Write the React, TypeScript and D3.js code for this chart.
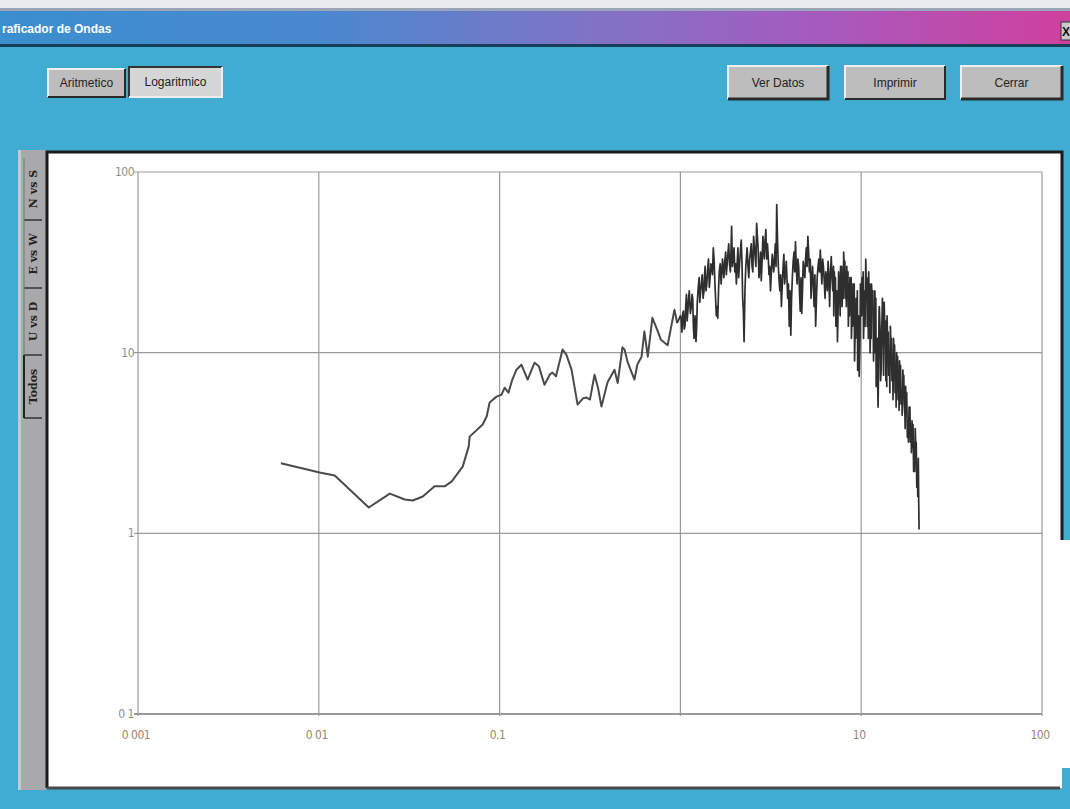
import React from "react";
import * as d3 from "d3";

// ---- data ----
const xTickValues = [0.001, 0.01, 0.1, 1, 10, 100];
const xTickLabels = ["0 001", "0 01", "0.1", "", "10", "100"];
const yTickValues = [0.1, 1, 10, 100];
const yTickLabels = ["0 1", "1", "10", "100"];

const lowFreqs = [
  0.00617, 0.0101, 0.01225, 0.0189, 0.0247, 0.0299, 0.0331, 0.0376, 0.0437, 0.0497,
  0.0544, 0.0625, 0.0675, 0.0683, 0.0806, 0.0848, 0.0881, 0.0962, 0.1026, 0.1066,
  0.112, 0.117, 0.124, 0.132, 0.143, 0.156, 0.165, 0.177, 0.19, 0.196, 0.205, 0.223,
  0.234, 0.25, 0.27, 0.29, 0.303, 0.316, 0.335, 0.35, 0.366, 0.395, 0.432, 0.45,
  0.478, 0.491, 0.51, 0.557, 0.578, 0.61, 0.632, 0.66, 0.7, 0.75, 0.78, 0.85, 0.927, 0.96,
];
const lowAmps = [
  2.44, 2.17, 2.09, 1.39, 1.66, 1.54, 1.52, 1.6, 1.82, 1.82,
  1.94, 2.34, 3.03, 3.43, 4.0, 4.43, 5.3, 5.71, 5.86, 6.4,
  6.0, 7.0, 8.05, 8.58, 7.1, 8.8, 8.4, 6.65, 7.6, 7.76, 7.4, 10.4,
  9.75, 8.05, 5.16, 5.6, 5.64, 5.5, 7.55, 6.4, 5.03, 6.83, 8.05, 6.8,
  10.7, 10.4, 8.9, 7.1, 8.6, 9.5, 13.1, 9.5, 15.6, 13.1, 11.8, 11.0, 17.3, 14.6,
];

// dense, noisy part of the spectrum (upper/lower swings of the band)
const peakFreqs = [
  1.0, 1.02, 1.04, 1.06, 1.08, 1.1, 1.12, 1.15, 1.17, 1.19, 1.22, 1.24, 1.27, 1.29, 1.32,
  1.35, 1.37, 1.4, 1.43, 1.46, 1.49, 1.52, 1.55, 1.58, 1.61, 1.64, 1.68, 1.71, 1.74, 1.78,
  1.81, 1.85, 1.89, 1.92, 1.96, 2.0, 2.04, 2.08, 2.12, 2.17, 2.21, 2.25, 2.3, 2.34, 2.39,
  2.44, 2.49, 2.54, 2.59, 2.64, 2.69, 2.75, 2.8, 2.86, 2.91, 2.97, 3.03, 3.09, 3.15, 3.22,
  3.28, 3.35, 3.41, 3.48, 3.55, 3.62, 3.7, 3.77, 3.85, 3.92, 4.0, 4.08, 4.16, 4.25, 4.33,
  4.42, 4.51, 4.6, 4.69, 4.78, 4.88, 4.97, 5.07, 5.17, 5.28, 5.38, 5.49, 5.6, 5.71, 5.83,
  5.94, 6.06, 6.18, 6.31, 6.43, 6.56, 6.69, 6.83, 6.96, 7.1, 7.25, 7.39, 7.54, 7.69, 7.84,
  8.0, 8.16, 8.32, 8.49, 8.66, 8.83, 9.01, 9.19, 9.37, 9.56, 9.75, 9.95, 10.1, 10.3, 10.6,
  10.8, 11.0, 11.2, 11.4, 11.7, 11.9, 12.1, 12.4, 12.6, 12.9, 13.1, 13.4, 13.7, 13.9, 14.2,
  14.5, 14.8, 15.1, 15.4, 15.7, 16.0, 16.3, 16.6, 17.0, 17.3, 17.6, 18.0, 18.4, 18.7, 19.1,
  19.5, 19.9, 20.3, 20.7, 20.9,
];
const peakAmps = [
  16, 13, 17, 14, 21, 17, 22, 18, 20, 12, 11.5, 19, 26, 21, 27,
  22, 30, 24, 33, 26, 30, 38, 25, 16, 15.5, 28, 24, 33, 26, 36,
  30, 40, 28, 50, 34, 28, 24, 38, 30, 42, 20, 11.5, 30, 38, 26,
  36, 30, 44, 34, 52, 38, 30, 25, 44, 33, 48, 40, 27, 22, 35,
  28, 40, 66, 30, 22, 18, 30, 24, 32, 20, 14, 12.5, 26, 36, 41,
  24, 30, 17, 16.5, 32, 26, 38, 44, 28, 20, 30, 18, 14, 26, 33,
  37, 24, 30, 20, 26, 32, 18, 34, 22, 28, 14, 11.5, 24, 30, 18,
  36, 20, 30, 14, 26, 12, 24, 9, 20, 8, 7.4, 22, 26, 12, 33,
  14, 28, 10, 24, 9, 22, 6.5, 5, 18, 8, 20, 19, 7, 16, 7.5,
  14, 7, 12, 6, 10, 5.5, 9, 5.2, 8, 5.2, 6.5, 3.4, 5, 3.2, 4.2,
  2.2, 3.8, 1.8, 2.6, 1.05,
];
const bandFreqs = [
  1.01, 1.03, 1.05, 1.07, 1.09, 1.11, 1.135, 1.16, 1.18, 1.205, 1.23, 1.255, 1.28, 1.305, 1.335,
  1.36, 1.385, 1.415, 1.445, 1.475, 1.505, 1.535, 1.565, 1.595, 1.625, 1.66, 1.695, 1.725, 1.76, 1.795,
  1.83, 1.87, 1.905, 1.94, 1.98, 2.02, 2.06, 2.1, 2.145, 2.19, 2.23, 2.275, 2.32, 2.365, 2.415,
  2.465, 2.515, 2.565, 2.615, 2.665, 2.72, 2.775, 2.83, 2.885, 2.94, 3.0, 3.06, 3.12, 3.185, 3.25,
  3.315, 3.38, 3.445, 3.515, 3.585, 3.66, 3.735, 3.81, 3.885, 3.96, 4.04, 4.12, 4.205, 4.29, 4.375,
  4.465, 4.555, 4.645, 4.735, 4.83, 4.925, 5.02, 5.12, 5.225, 5.33, 5.435, 5.545, 5.655, 5.77, 5.885,
  6.0, 6.12, 6.245, 6.37, 6.495, 6.625, 6.76, 6.895, 7.03, 7.175, 7.32, 7.465, 7.615, 7.765, 7.92,
  8.08, 8.24, 8.405, 8.575, 8.745, 8.92, 9.1, 9.28, 9.465, 9.655, 9.85, 10.0, 10.2, 10.45, 10.7,
  10.9, 11.1, 11.3, 11.55, 11.8, 12.0, 12.25, 12.5, 12.75, 13.0, 13.25, 13.55, 13.8, 14.05, 14.35,
  14.65, 14.95, 15.25, 15.55, 15.85, 16.15, 16.45, 16.8, 17.15, 17.45, 17.8, 18.2, 18.55, 18.9, 19.3,
  19.7, 20.1, 20.5, 20.8,
];
const bandAmps = [
  15.5, 16.5, 13.5, 18, 15, 20, 16.5, 21, 14, 16, 14, 23, 19, 24, 20,
  27, 22, 29, 23, 31, 27, 33, 20, 18, 22, 31, 28, 29, 32, 27,
  35, 31, 37, 30, 38, 31, 31, 26, 36, 32, 17, 22, 34, 30, 33,
  40, 28, 39, 30, 44, 26, 36, 32, 38, 42, 33, 34, 30, 28, 32,
  33, 30, 42, 25, 27, 24, 35, 27, 26, 24, 22, 20, 32, 28, 30,
  33, 22, 26, 22, 28, 33, 30, 36, 33, 25, 24, 27, 20, 30, 28,
  29, 33, 25, 28, 22, 26, 28, 26, 30, 20, 22, 19, 20, 26, 26,
  26, 25, 22, 24, 20, 18, 18, 15, 14, 16, 12, 20, 19, 22, 20,
  22, 18, 16, 18, 15, 14, 12, 10, 12, 14, 11, 12, 11, 10, 9,
  10, 8.5, 8.5, 7.5, 7.5, 6.5, 7, 6, 6.5, 4.5, 5, 4.2, 4, 3.6, 3,
  3, 2.6, 2.2, 1.5,
];
const tailFreqs = [
  7.05, 7.2, 7.36, 7.5, 7.65, 7.8, 7.96, 8.12, 8.28, 8.45, 8.62, 8.8, 8.97, 9.15, 9.33,
  9.52, 9.7, 9.9, 10.05, 10.25, 10.5, 10.75, 10.95, 11.15, 11.35, 11.6, 11.85, 12.05, 12.3, 12.55,
  12.8, 13.05, 13.3, 13.6, 13.85, 14.1, 14.4, 14.7, 15.0, 15.3, 15.6, 15.9, 16.2, 16.5, 16.85,
  17.2, 17.5, 17.85, 18.25, 18.6, 18.95, 19.35, 19.75, 20.15, 20.55, 20.75,
];
const tailAmps = [
  16, 26, 18, 28, 16, 30, 20, 32, 18, 28, 16, 26, 14, 24, 12,
  22, 10, 24, 16, 28, 14, 26, 12, 24, 12, 22, 10, 20, 8, 17,
  7, 16, 7.5, 15, 6.5, 13, 6, 12, 5.5, 11, 5, 9.5, 4.8, 8.5, 4.5,
  7.5, 3.8, 6, 3.2, 5, 2.8, 4, 2.2, 3.2, 1.6, 2.0,
];

const tabLabels = ["N vs S", "E vs W", "U vs D", "Todos"];
const leftButtons = ["Aritmetico", "Logaritmico"];
const rightButtons = ["Ver Datos", "Imprimir", "Cerrar"];

const W = 1070;
const H = 809;

function Button({ x, y, w, h, label, pressed, dark }: any) {
  return (
    <g>
      <rect x={x} y={y} width={w} height={h} fill={pressed ? "#d6d6d6" : "#bdbdbd"} />
      <path d={`M${x},${y + h} L${x},${y} L${x + w},${y}`} fill="none" stroke={pressed ? "#333" : "#efefef"} strokeWidth={2} />
      <path d={`M${x},${y + h} L${x + w},${y + h} L${x + w},${y}`} fill="none" stroke={pressed ? "#eee" : "#2a2a2a"} strokeWidth={dark ? 3 : 2} />
      <text
        x={x + w / 2}
        y={y + h / 2 + 4}
        textAnchor="middle"
        fontFamily="'Liberation Sans Narrow', 'Liberation Sans', Arial, sans-serif"
        fontSize={12}
        fill="#222"
      >
        {label}
      </text>
    </g>
  );
}

export default function App() {
  const x = d3.scaleLog().domain([0.001, 100]).range([138, 1042]);
  const y = d3.scaleLog().domain([0.1, 100]).range([714, 172]);

  const lowPts: [number, number][] = lowFreqs.map((f, i) => [f, lowAmps[i]]);
  const densePts: [number, number][] = d3.sort(
    [
      [lowFreqs[lowFreqs.length - 1], lowAmps[lowAmps.length - 1]] as [number, number],
      ...peakFreqs.map((f, i) => [f, peakAmps[i]] as [number, number]),
      ...bandFreqs.map((f, i) => [f, bandAmps[i]] as [number, number]),
      ...tailFreqs.map((f, i) => [f, tailAmps[i]] as [number, number]),
    ],
    (d) => d[0]
  );
  const gen = d3
    .line<[number, number]>()
    .x((d) => x(d[0]))
    .y((d) => y(d[1]));

  const tabBounds = [158, 220, 288, 355, 418];

  return (
    <svg
      width={W}
      height={H}
      style={{ position: "fixed", left: 0, top: 0, display: "block" }}
      xmlns="http://www.w3.org/2000/svg"
    >
      <defs>
        <linearGradient id="tb" x1="0" x2="1" y1="0" y2="0">
          <stop offset="0%" stopColor="#3a8fce" />
          <stop offset="30%" stopColor="#4a88cf" />
          <stop offset="55%" stopColor="#7f74c6" />
          <stop offset="75%" stopColor="#a35cc0" />
          <stop offset="100%" stopColor="#d0409e" />
        </linearGradient>
      </defs>
      {/* window background */}
      <rect x={0} y={0} width={W} height={H} fill="#40acd2" />
      <rect x={0} y={0} width={W} height={10} fill="#e8ecef" />
      <rect x={0} y={8} width={W} height={3} fill="#9aa6b8" />
      {/* title bar */}
      <rect x={0} y={11} width={W} height={34} fill="url(#tb)" />
      <rect x={0} y={44} width={W} height={3} fill="#16405a" />
      <text x={2} y={33} fill="#ffffff" fontWeight="bold" fontFamily="'Liberation Sans', Arial, sans-serif" fontSize={12}>
        raficador de Ondas
      </text>
      <rect x={1061} y={22} width={12} height={18} fill="#c8c8c8" stroke="#333" strokeWidth={1} />
      <text x={1062} y={36} fontSize={12} fontWeight="bold" fontFamily="'Liberation Sans', Arial, sans-serif" fill="#111">
        X
      </text>

      {/* buttons */}
      <Button x={48} y={69} w={77} h={28} label={leftButtons[0]} />
      <Button x={129} y={67} w={93} h={30} label={leftButtons[1]} pressed />
      <Button x={728} y={66} w={100} h={33} label={rightButtons[0]} dark />
      <Button x={845} y={66} w={100} h={33} label={rightButtons[1]} />
      <Button x={961} y={66} w={101} h={33} label={rightButtons[2]} dark />

      {/* tab strip */}
      <rect x={18} y={150} width={28} height={640} fill="#a9a9ab" />
      <rect x={18} y={150} width={3} height={640} fill="#c9c9c9" />
      {tabLabels.map((t, i) => {
        const y0 = tabBounds[i];
        const y1 = tabBounds[i + 1];
        const cy = (y0 + y1) / 2;
        return (
          <g key={t}>
            <line x1={24} x2={42} y1={y1} y2={y1} stroke="#333" strokeWidth={1.5} />
            <line x1={24} x2={24} y1={y0} y2={y1} stroke={i === 3 ? "#222" : "#777"} strokeWidth={i === 3 ? 2 : 1} />
            <text
              transform={`translate(37,${cy}) rotate(-90)`}
              textAnchor="middle"
              fontFamily="'DejaVu Serif', serif"
              fontWeight="bold"
              fontSize={11}
              fill="#222"
            >
              {t}
            </text>
          </g>
        );
      })}

      {/* plot panel */}
      <rect x={47} y={152} width={1015} height={636} fill="#ffffff" />
      <path d="M47,788 L47,152 L1062,152 L1062,540" fill="none" stroke="#1b1b1b" strokeWidth={3} />
      <path d="M47,788 L1060,788" fill="none" stroke="#4a4a4a" strokeWidth={3} />
      <rect x={1055} y={540} width={15} height={228} fill="#ffffff" />

      {/* grid */}
      {xTickValues.map((v) => (
        <line key={"gx" + v} x1={x(v)} x2={x(v)} y1={y(100)} y2={y(0.1) + 2} stroke="#9a9a9a" strokeWidth={1.2} />
      ))}
      {yTickValues.map((v) => (
        <line key={"gy" + v} x1={x(0.001) - 4} x2={x(100)} y1={y(v)} y2={y(v)} stroke="#9a9a9a" strokeWidth={v === 0.1 ? 2 : 1.2} />
      ))}

      {/* tick labels */}
      {yTickValues.map((v, i) => (
        <text
          key={"ly" + v}
          x={x(0.001) - 4}
          y={y(v) + 4}
          textAnchor="end"
          fontFamily="'DejaVu Sans Condensed', 'Liberation Sans Narrow', sans-serif"
          fontSize={12}
          fill="#8f8f8f"
          style={{ letterSpacing: "-0.5px" }}
        >
          {yTickLabels[i]}
        </text>
      ))}
      {xTickValues.map((v, i) => (
        <text
          key={"lx" + v}
          x={x(v) - 2}
          y={739}
          textAnchor="middle"
          fontFamily="'DejaVu Sans Condensed', 'Liberation Sans Narrow', sans-serif"
          fontSize={12}
          fill="#9c8272"
          style={{ letterSpacing: "-0.5px" }}
        >
          {xTickLabels[i]}
        </text>
      ))}

      {/* spectrum */}
      <path d={gen(lowPts) || ""} fill="none" stroke="#4a4a4a" strokeWidth={2} strokeLinejoin="round" />
      <path d={gen(densePts) || ""} fill="none" stroke="#2e2e2e" strokeWidth={1.7} strokeLinejoin="round" />
    </svg>
  );
}
